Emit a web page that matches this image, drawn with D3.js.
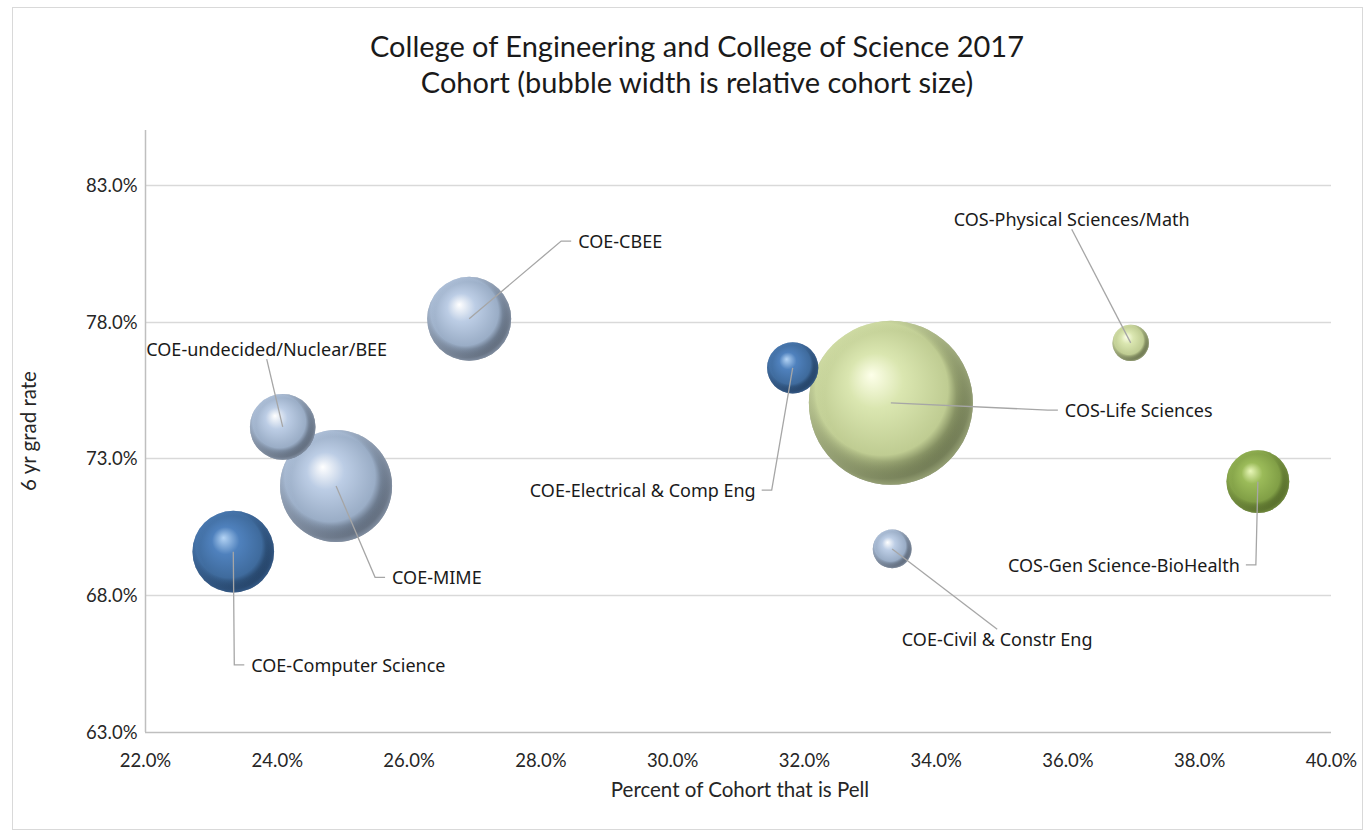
<!DOCTYPE html>
<html>
<head>
<meta charset="utf-8">
<script src="https://cdn.jsdelivr.net/npm/d3@7"></script>
<style>
  html, body { margin: 0; padding: 0; background: #ffffff; }
  svg { display: block; }
</style>
</head>
<body>
<svg id="chart" width="1364" height="830"></svg>
<script>
// ---------------- DATA ----------------
const programs = [
  "COE-CBEE",
  "COE-undecided/Nuclear/BEE",
  "COE-MIME",
  "COE-Computer Science",
  "COE-Electrical & Comp Eng",
  "COS-Life Sciences",
  "COS-Physical Sciences/Math",
  "COS-Gen Science-BioHealth",
  "COE-Civil & Constr Eng"
];
const pellPct   = [26.92, 24.09, 24.90, 23.34, 31.83, 33.32, 36.96, 38.89, 33.34];
const gradRate  = [78.10, 74.15, 71.99, 69.59, 76.31, 75.03, 77.22, 72.15, 69.69];
const cohortSize = [210, 164, 280, 204, 128, 410, 91, 157, 97];
const colorGroup = ["lightblue", "lightblue", "lightblue", "blue", "blue", "lightgreen", "lightgreen", "green", "lightblue"];

const xTicks = [22, 24, 26, 28, 30, 32, 34, 36, 38, 40];
const yTicks = [63, 68, 73, 78, 83];

const titleLines = ["College of Engineering and College of Science 2017", "Cohort (bubble width is relative cohort size)"];
const xTitle = "Percent of Cohort that is Pell";
const yTitle = "6 yr grad rate";

// ---------------- LAYOUT ----------------
// label placement: offset of label from bubble centre (px) and leader attach side
const labelPlacement = {
  "COE-CBEE":                   { dx: 109,  dy: -77,  side: "left" },
  "COE-undecided/Nuclear/BEE":  { dx: -16,  dy: -77,  side: "bottom" },
  "COE-MIME":                   { dx: 56,   dy: 92,   side: "left" },
  "COE-Computer Science":       { dx: 18,   dy: 114,  side: "left" },
  "COE-Electrical & Comp Eng":  { dx: -37,  dy: 123,  side: "right" },
  "COS-Life Sciences":          { dx: 174,  dy: 8,    side: "left" },
  "COS-Physical Sciences/Math": { dx: -59,  dy: -123, side: "bottom" },
  "COS-Gen Science-BioHealth":  { dx: -18,  dy: 84,   side: "right" },
  "COE-Civil & Constr Eng":     { dx: 105,  dy: 91,   side: "top" }
};

const palette = {
  blue:       { hi: "#b4d4f5", base: "#4f81bd", mid: "#3f6b9d", edge: "#142a45" },
  lightblue:  { hi: "#ffffff", base: "#bccde5", mid: "#9aadc6", edge: "#39424f" },
  lightgreen: { hi: "#fdffe9", base: "#dae6b0", mid: "#bfcc92", edge: "#3f4829" },
  green:      { hi: "#e9f7b9", base: "#9bbb59", mid: "#819f46", edge: "#3b4d19" }
};

const W = 1364, H = 830;
const plot = { left: 145, right: 1331, top: 130, bottom: 732 };
const fontAxis = "Lato, 'Open Sans', sans-serif";
const fontLabel = "'Noto Sans', 'Open Sans', sans-serif";

const svg = d3.select("#chart");

// gradients
const defs = svg.append("defs");
Object.entries(palette).forEach(([k, c]) => {
  const g = defs.append("radialGradient")
    .attr("id", "grad-" + k)
    .attr("cx", "0.47").attr("cy", "0.45").attr("r", "0.56")
    .attr("fx", "0.38").attr("fy", "0.33");
  g.append("stop").attr("offset", "0%").attr("stop-color", c.hi);
  g.append("stop").attr("offset", "30%").attr("stop-color", c.base);
  g.append("stop").attr("offset", "72%").attr("stop-color", c.mid);
  g.append("stop").attr("offset", "93%").attr("stop-color", c.edge);
  g.append("stop").attr("offset", "100%").attr("stop-color", c.edge);
  // lower rim reflection
  const r2 = defs.append("radialGradient")
    .attr("id", "rim-" + k)
    .attr("cx", "0.5").attr("cy", "0.5").attr("r", "0.5")
    .attr("fx", "0.5").attr("fy", "0.3");
  r2.append("stop").attr("offset", "80%").attr("stop-color", c.base).attr("stop-opacity", 0);
  r2.append("stop").attr("offset", "100%").attr("stop-color", c.base).attr("stop-opacity", 0.55);
});

// chart border
svg.append("rect")
  .attr("x", 12.5).attr("y", 7.5)
  .attr("width", W - 14).attr("height", H - 8)
  .attr("fill", "#ffffff").attr("stroke", "#d9d9d9").attr("stroke-width", 1);

// scales
const x = d3.scaleLinear().domain([22, 40]).range([plot.left, plot.right]);
const y = d3.scaleLinear().domain([63, 85]).range([plot.bottom, plot.top]);
const r = d3.scaleLinear().domain([0, d3.max(cohortSize)]).range([0, 82]);

// gridlines
svg.append("g")
  .selectAll("line")
  .data(yTicks.filter(t => t !== 63))
  .join("line")
  .attr("x1", plot.left).attr("x2", plot.right)
  .attr("y1", d => Math.round(y(d)) + 0.5).attr("y2", d => Math.round(y(d)) + 0.5)
  .attr("stroke", "#d9d9d9").attr("stroke-width", 1.3);

// axes
const xAxis = d3.axisBottom(x).tickValues(xTicks).tickFormat(d => d.toFixed(1) + "%").tickSize(0).tickPadding(21);
const yAxis = d3.axisLeft(y).tickValues(yTicks).tickFormat(d => d.toFixed(1) + "%").tickSize(0).tickPadding(8);

const gx = svg.append("g").attr("transform", `translate(0,${plot.bottom + 0.5})`).call(xAxis);
const gy = svg.append("g").attr("transform", `translate(${plot.left + 0.5},0)`).call(yAxis);
gx.select(".domain").attr("stroke", "#bfbfbf").attr("stroke-width", 1.5).attr("d", `M${plot.left},0H${plot.right}`);
gy.select(".domain").attr("stroke", "#bfbfbf").attr("stroke-width", 1.5).attr("d", `M0,${plot.top}V${plot.bottom}`);
[gx, gy].forEach(g => g.selectAll("text")
  .attr("font-family", fontAxis).attr("font-size", 18.5).attr("fill", "#262626"));
gy.selectAll("text").attr("dy", "0.35em");

// titles
const title = svg.append("text")
  .attr("x", 697).attr("text-anchor", "middle")
  .attr("font-family", fontAxis).attr("font-size", 29).attr("fill", "#1a1a1a");
titleLines.forEach((t, i) => title.append("tspan").attr("x", 697).attr("y", 57 + i * 36).text(t));

svg.append("text")
  .attr("x", 740).attr("y", 797)
  .attr("text-anchor", "middle")
  .attr("font-family", fontAxis).attr("font-size", 20.5).attr("fill", "#262626")
  .text(xTitle);

svg.append("text")
  .attr("transform", `translate(36,${(plot.top + plot.bottom) / 2}) rotate(-90)`)
  .attr("text-anchor", "middle")
  .attr("font-family", fontAxis).attr("font-size", 20.5).attr("fill", "#262626")
  .text(yTitle);

// data rows
const rows = programs.map((name, i) => ({
  name, px: pellPct[i], gy: gradRate[i], size: cohortSize[i], grp: colorGroup[i]
}));

// bubbles (larger first so small ones stay visible)
const bubbles = svg.append("g");
rows.slice().sort((a, b) => b.size - a.size).forEach(d => {
  const g = bubbles.append("g");
  g.append("circle")
    .attr("cx", x(d.px)).attr("cy", y(d.gy)).attr("r", r(d.size))
    .attr("fill", `url(#grad-${d.grp})`);
  g.append("circle")
    .attr("cx", x(d.px)).attr("cy", y(d.gy)).attr("r", r(d.size))
    .attr("fill", `url(#rim-${d.grp})`);
});

// labels + leader lines
const leaders = svg.append("g");
const labels = svg.append("g");
rows.forEach(d => {
  const p = labelPlacement[d.name];
  const cx = x(d.px), cy = y(d.gy);
  const anchor = p.side === "left" ? "start" : p.side === "right" ? "end" : "middle";
  const t = labels.append("text")
    .attr("x", cx + p.dx).attr("y", cy + p.dy)
    .attr("dy", "0.35em")
    .attr("text-anchor", anchor)
    .attr("font-family", fontLabel).attr("font-size", 18).attr("fill", "#1a1a1a")
    .text(d.name);
  const bb = t.node().getBBox();
  let pts;
  if (p.side === "left") {
    const ly = bb.y + bb.height / 2;
    pts = [[cx, cy], [bb.x - 17, ly], [bb.x - 7, ly]];
  } else if (p.side === "right") {
    const ly = bb.y + bb.height / 2;
    const rx = bb.x + bb.width;
    pts = [[cx, cy], [rx + 16, ly], [rx + 6, ly]];
  } else if (p.side === "bottom") {
    pts = [[cx, cy], [bb.x + bb.width / 2, bb.y + bb.height - 2]];
  } else {
    pts = [[cx, cy], [bb.x + bb.width / 2, bb.y + 2]];
  }
  leaders.append("path")
    .attr("d", d3.line()(pts))
    .attr("fill", "none").attr("stroke", "#a6a6a6").attr("stroke-width", 1.3);
});
</script>
</body>
</html>
